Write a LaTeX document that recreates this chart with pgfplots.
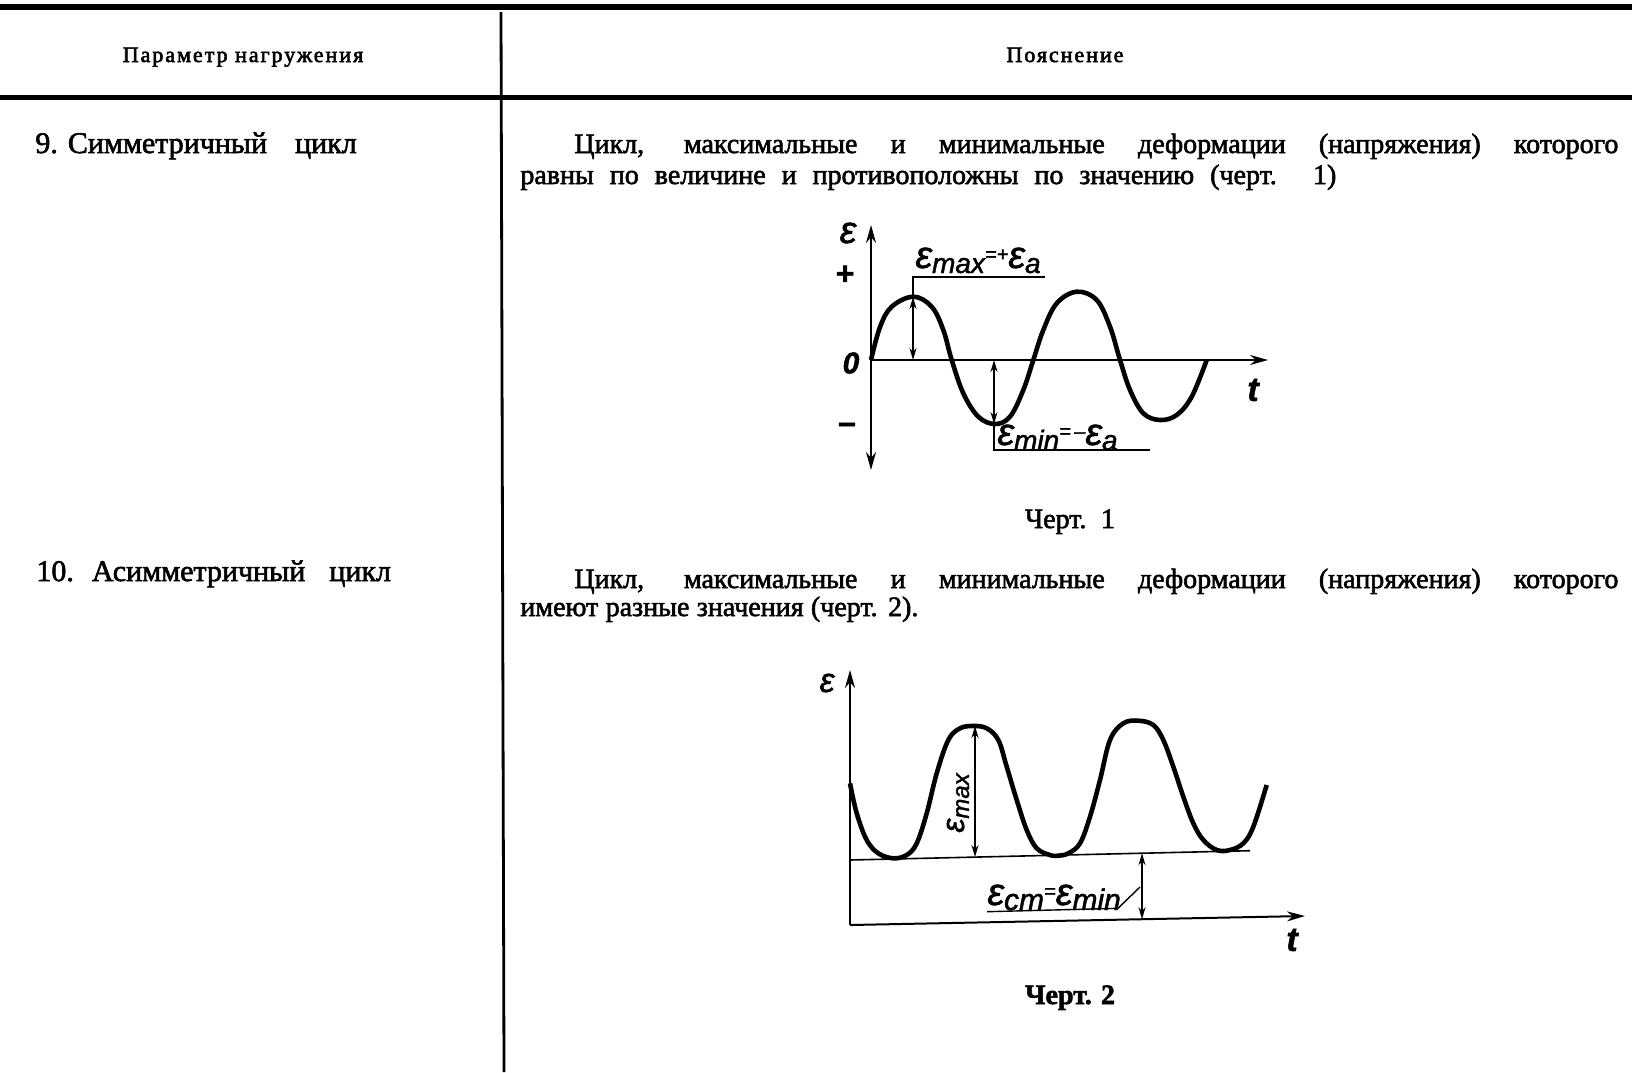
\documentclass[border=0pt]{standalone}
\usepackage{fontspec}
\setmainfont[FakeBold=2]{Liberation Serif}
\setsansfont{Liberation Sans}
\newfontfamily\hdr[LetterSpace=9, FakeBold=2.5]{Liberation Serif}
\newfontfamily\lab[FakeBold=1.5]{Liberation Sans}
\usepackage{pgfplots}
\pgfplotsset{compat=1.18}
\usetikzlibrary{arrows.meta}

% big epsilon and lowered subscript for the chart labels
\newcommand\Eps[1][19]{{\fontsize{#1}{#1}\selectfont ε}}
\newcommand\lsub[2][14]{\raisebox{-2.5pt}{\fontsize{#1}{#1}\selectfont #2}}
\newcommand\lsup[1]{\raisebox{3.5pt}{\fontsize{10}{10}\selectfont #1}}

\tikzset{
  ar/.style={-{Stealth[length=9pt,width=5pt]}},
  dar/.style={{Stealth[length=6pt,width=3.5pt]}-{Stealth[length=6pt,width=3.5pt]}},
  body/.style={inner sep=0pt, font=\fontsize{14}{16}\selectfont},
  left/.style={inner sep=0pt, font=\fontsize{15}{17}\selectfont},
  lbl/.style={inner sep=0pt, font=\lab\itshape},
}

\begin{document}
\begin{tikzpicture}[x=0.5pt,y=-0.5pt]
\useasboundingbox (0,0) rectangle (1632,1072);

% table rules
\fill (0,4) rectangle (1632,10);
\fill (0,95) rectangle (1632,100);
\draw[line width=1.4pt] (501,12) -- (504,1072);

% header
\node[anchor=base, inner sep=0pt] at (243,62) {\hdr\fontsize{11}{13}\selectfont Параметр нагружения};
\node[anchor=base, inner sep=0pt] at (1065,62) {\hdr\fontsize{11}{13}\selectfont Пояснение};

% left column
\node[left, anchor=base west] at (35,153) {9.\hspace{5pt}Симметричный\hspace{14pt}цикл};
\node[left, anchor=base west] at (36,581) {10.\hspace{9pt}Асимметричный\hspace{12pt}цикл};

% right column
\node[body, anchor=base west] at (574,153) {\makebox[522pt][s]{Цикл, максимальные и минимальные деформации (напряжения) которого}};
\node[body, anchor=base west] at (520,184) {\makebox[408pt][s]{равны по величине и противоположны по значению (черт. 1)}};
\node[body, anchor=base west] at (574,588) {\makebox[522pt][s]{Цикл, максимальные и минимальные деформации (напряжения) которого}};
\node[body, anchor=base west] at (520,616) {\makebox[199pt][s]{имеют разные значения (черт. 2).}};

\node[body, anchor=base] at (1070,528) {\makebox[45pt][s]{Черт. 1}};
\node[body, anchor=base] at (1070,1004) {\makebox[45pt][s]{\bfseries Черт. 2}};

% Черт. 1: symmetric cycle
\begin{axis}[
  at={(415.5pt,-240pt)}, anchor=south west,
  x=0.5pt, y=0.5pt,
  xmin=-40, xmax=420, ymin=-120, ymax=140,
  hide axis, clip=false, enlargelimits=false,
]
\addplot[black, line width=2.3pt, smooth, tension=0.6] coordinates {
  (0,0) (9,33) (20.7,53.3) (42.3,63.3) (60.7,53.3) (72.3,30) (80.7,0)
  (92.3,-33.3) (107.3,-56.7) (124,-64) (139,-56.7) (152.3,-30) (162.3,0)
  (172.3,30) (185.7,56.7) (205.7,68.3) (225.7,60) (239,33.3) (249,0)
  (259,-30) (272.3,-53.3) (289,-60) (305.7,-55) (320.7,-36.7) (335.7,0)
};
\draw[line width=1pt, {Stealth[length=9pt,width=5pt]}-{Stealth[length=9pt,width=5pt]}] (0,-110) -- (0,135);
\draw[line width=1pt, ar] (0,0) -- (397,0);
\draw[line width=0.7pt, dar] (42,0) -- (42,63);
\draw[line width=0.7pt] (42,63) -- (42,83) -- (174,83);
\draw[line width=0.7pt, dar] (123,0) -- (123,-64);
\draw[line width=0.7pt] (123,-64) -- (123,-90) -- (279,-90);
\node[lbl, anchor=base west] at (44,92)
  {\Eps\lsub{max}\lsup{=+}\Eps\lsub{a}};
\node[lbl, anchor=base west] at (126,-85)
  {\Eps\lsub{min}\lsup{=\,–}\Eps\lsub{a}};
\node[lbl, font=\lab\itshape\fontsize{19}{19}\selectfont] at (-23,127) {ε};
\node[lbl, font=\lab\bfseries\fontsize{16}{16}\selectfont] at (-26,85) {+};
\node[lbl, font=\lab\itshape\bfseries\fontsize{15}{15}\selectfont] at (-20,-3) {0};
\node[lbl, font=\lab\bfseries\fontsize{16}{16}\selectfont] at (-24,-68) {–};
\node[lbl, font=\lab\itshape\bfseries\fontsize{17}{17}\selectfont] at (382,-30) {t};
\end{axis}

% Черт. 2: asymmetric cycle
\begin{axis}[
  at={(405pt,-480.5pt)}, anchor=south west,
  x=0.5pt, y=0.5pt,
  xmin=-40, xmax=470, ymin=-40, ymax=260,
  hide axis, clip=false, enlargelimits=false,
]
\addplot[black, line width=2.3pt, smooth, tension=0.6] coordinates {
  (0,137.7) (6.7,107.7) (16.7,81) (28.3,67.7) (43.3,62.7) (56.7,66)
  (66.7,77.7) (76.7,107.7) (86.7,147.7) (98.3,181) (110,192.7) (123.3,195)
  (136.7,192.7) (148.3,181) (156.7,154.3) (166.7,121) (176.7,91) (186.7,72.7)
  (200,66) (208.3,65.3) (218.3,67.7) (230,77.7) (240,104.3) (250,141)
  (260,181) (273.3,197.7) (288.3,200.3) (303.3,196) (313.3,181) (323.3,154.3)
  (333.3,124.3) (343.3,97.7) (353.3,81) (366.7,71) (380,71) (393.3,77.7)
  (403.3,94.3) (416.7,136)
};
\draw[line width=1pt, ar] (0,-4) -- (0,251);
\draw[line width=1pt, ar] (0,-4) -- (455,5);
\draw[line width=0.8pt] (0,61) -- (400,70.3);
\draw[line width=0.7pt, dar] (125,64) -- (125,195);
\draw[line width=0.7pt, dar] (292,1.8) -- (292,67.8);
\draw[line width=0.7pt] (137,9.3) -- (268,12.7) -- (290,34);
\node[lbl, rotate=90] at (108,118)
  {\Eps[16]\lsub[12]{max}};
\node[lbl, anchor=base west] at (137,16)
  {\Eps[19]\lsub[15]{ст}\lsup{=}\Eps[19]\lsub[15]{min}};
\node[lbl, font=\lab\itshape\fontsize{17}{17}\selectfont] at (-23,238) {ε};
\node[lbl, font=\lab\itshape\bfseries\fontsize{17}{17}\selectfont] at (442,-19) {t};
\end{axis}
\end{tikzpicture}
\end{document}
